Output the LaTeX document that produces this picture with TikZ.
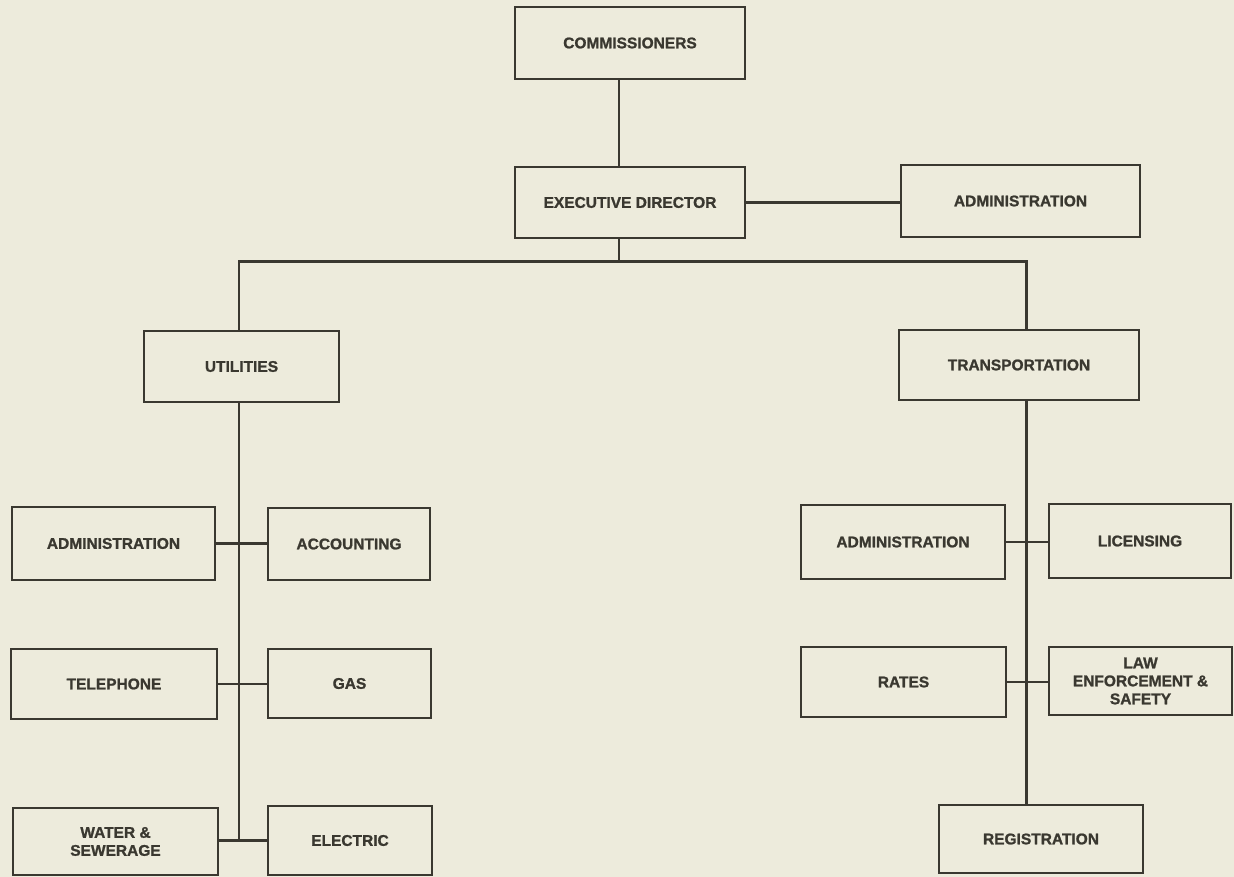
\documentclass[tikz,border=0pt]{standalone}
\usepackage{fontspec}
\setmainfont{Liberation Sans}[BoldFeatures={FakeBold=1.2}]
\definecolor{ink}{HTML}{3A3830}
\definecolor{paper}{HTML}{EDEBDC}
\begin{document}
\begin{tikzpicture}[x=1pt,y=-1pt,
  box/.style={draw=ink, line width=2.8pt, rectangle, inner sep=0pt, align=center,
    font=\fontsize{15.5}{18}\selectfont\bfseries, text=ink},
  link/.style={draw=ink, line width=2.3pt}]
\fill[paper] (0,0) rectangle (1234,877);
\useasboundingbox (0,0) rectangle (1234,877);
% nodes
\node[box, minimum width=230pt, minimum height=72pt] (comm) at (630,43) {COMMISSIONERS};
\node[box, minimum width=230pt, minimum height=71pt] (exec) at (630,202.5) {EXECUTIVE DIRECTOR};
\node[box, minimum width=239pt, minimum height=72pt] (adm0) at (1020.5,201) {ADMINISTRATION};
\node[box, minimum width=195pt, minimum height=71pt] (util) at (241.5,366.5) {UTILITIES};
\node[box, minimum width=240pt, minimum height=70pt] (trans) at (1019,365) {TRANSPORTATION};
\node[box, minimum width=203pt, minimum height=73pt] (uadm) at (113.5,543.5) {ADMINISTRATION};
\node[box, minimum width=162pt, minimum height=72pt] (acct) at (349,544) {ACCOUNTING};
\node[box, minimum width=206pt, minimum height=70pt] (tel) at (114,684) {TELEPHONE};
\node[box, minimum width=163pt, minimum height=69pt] (gas) at (349.5,683.5) {GAS};
\node[box, minimum width=205pt, minimum height=67pt] (water) at (115.5,841.5) {WATER \&\\SEWERAGE};
\node[box, minimum width=164pt, minimum height=69pt] (elec) at (350,840.5) {ELECTRIC};
\node[box, minimum width=204pt, minimum height=74pt] (tadm) at (903,542) {ADMINISTRATION};
\node[box, minimum width=182pt, minimum height=74pt] (lic) at (1140,541) {LICENSING};
\node[box, minimum width=205pt, minimum height=70pt] (rates) at (903.5,682) {RATES};
\node[box, minimum width=183pt, minimum height=68pt] (law) at (1140.5,681) {LAW\\ENFORCEMENT \&\\SAFETY};
\node[box, minimum width=204pt, minimum height=68pt] (reg) at (1041,839) {REGISTRATION};
% helper coordinates
\coordinate (cx) at (619,0);
\coordinate (lx) at (239,0);
\coordinate (rx) at (1026.5,0);
\coordinate (bar) at (0,261.5);
\coordinate (lbar) at (lx |- bar);
\coordinate (rbar) at (rx |- bar);
\coordinate (lend) at (lx |- water.east);
% connectors
\draw[link] (comm.south -| cx) -- (exec.north -| cx);
\draw[link] (exec.east) -- (adm0.west |- exec.east);
\draw[link] (exec.south -| cx) -- (cx |- bar);
\draw[link] (util.north -| lx) -- (lbar) -- (rbar) -- (trans.north -| rx);
\draw[link] (util.south -| lx) -- (lend);
\draw[link] (uadm.east) -- (acct.west |- uadm.east);
\draw[link] (tel.east) -- (gas.west |- tel.east);
\draw[link] (water.east |- elec.west) -- (elec.west);
\draw[link] (trans.south -| rx) -- (reg.north -| rx);
\draw[link] (tadm.east) -- (lic.west |- tadm.east);
\draw[link] (rates.east) -- (law.west |- rates.east);
\end{tikzpicture}
\end{document}
